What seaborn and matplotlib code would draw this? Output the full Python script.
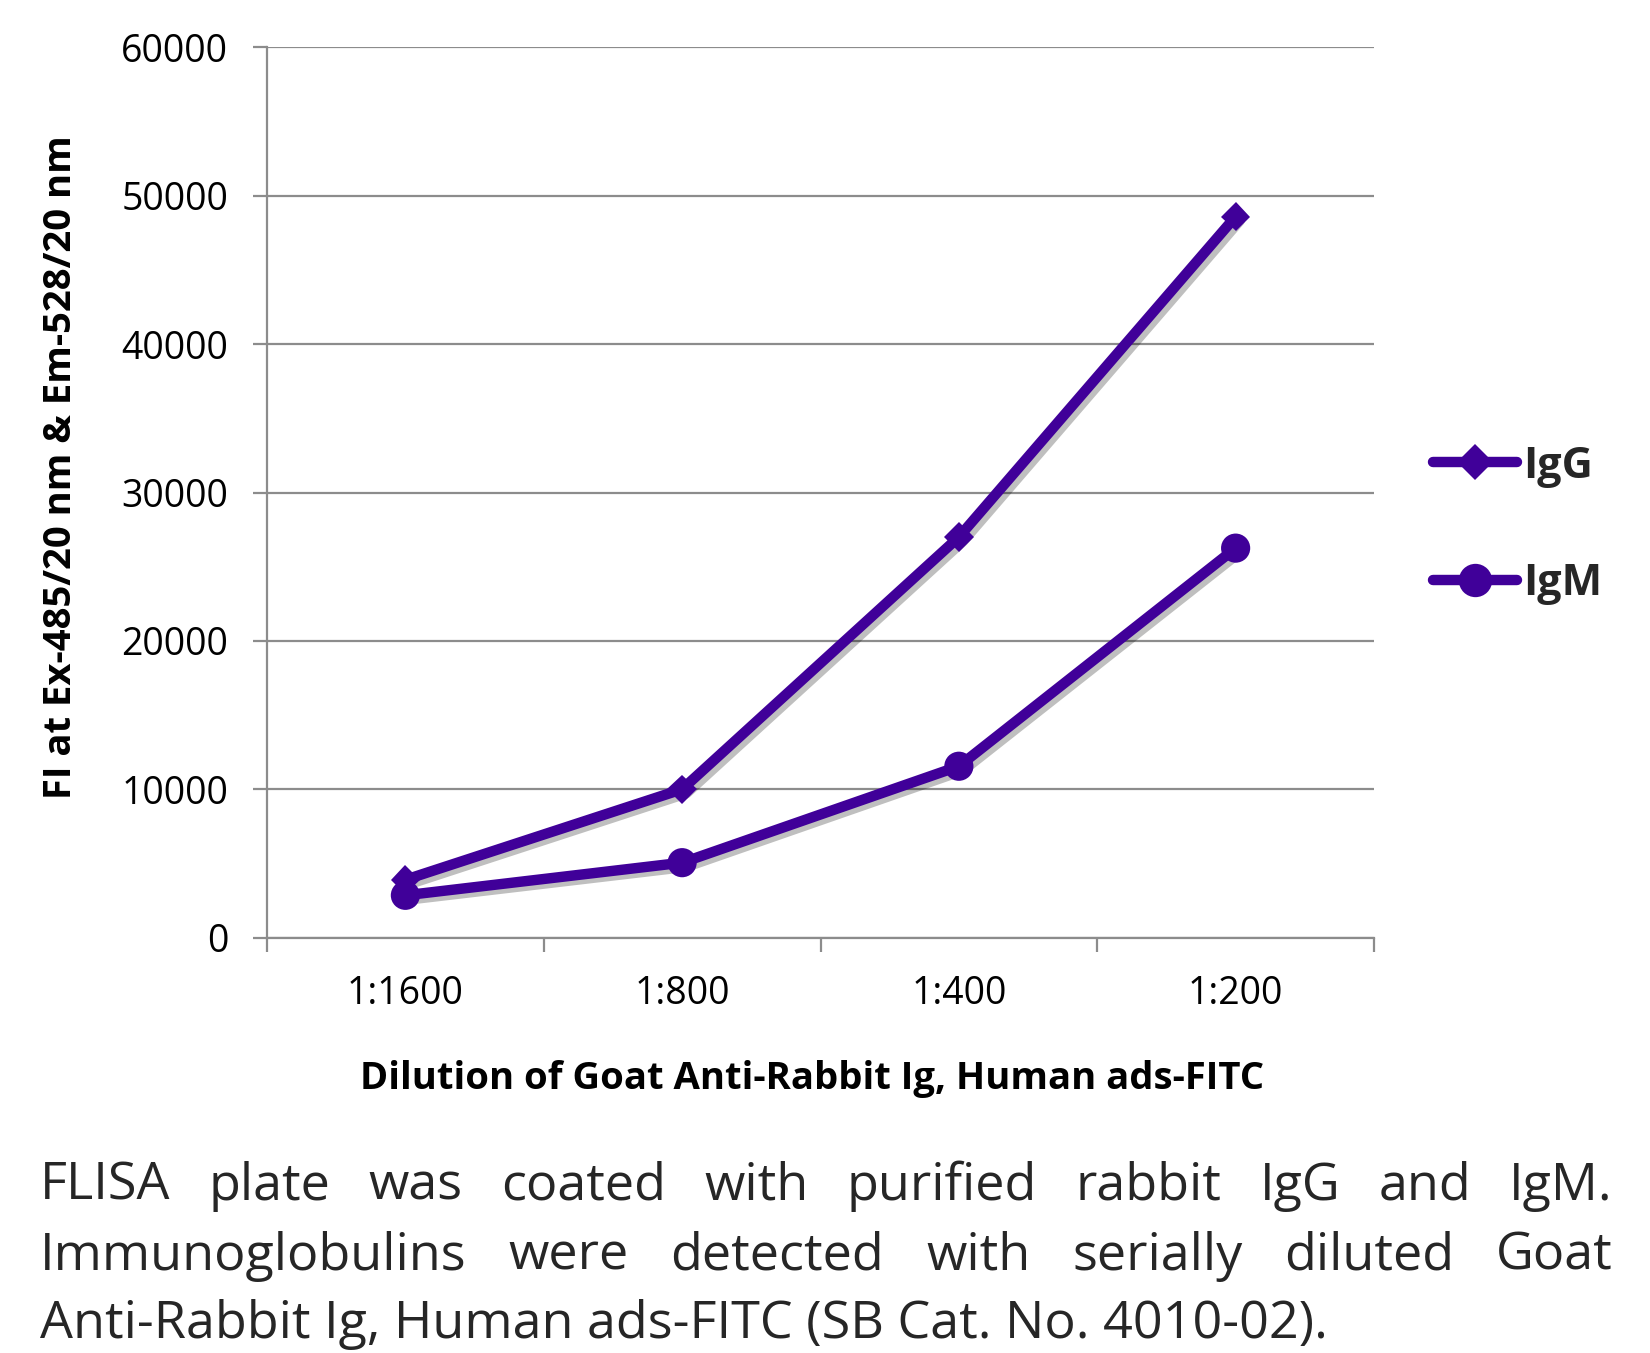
import numpy as np
import pandas as pd
import matplotlib
matplotlib.use("Agg")
import matplotlib.pyplot as plt
import matplotlib.patheffects as pe
from matplotlib.lines import Line2D
import seaborn as sns

# ---- data ----
dilutions = ["1:1600", "1:800", "1:400", "1:200"]
igg_values = [3900, 10000, 27000, 48600]
igm_values = [2850, 5050, 11550, 26250]
series_names = ["IgG", "IgM"]
y_ticks = [0, 10000, 20000, 30000, 40000, 50000, 60000]
x_label = "Dilution of Goat Anti-Rabbit Ig, Human ads-FITC"
y_label = "FI at Ex-485/20 nm & Em-528/20 nm"
caption_lines = [
    "FLISA plate was coated with purified rabbit IgG and IgM.",
    "Immunoglobulins were detected with serially diluted Goat",
    "Anti-Rabbit Ig, Human ads-FITC (SB Cat. No. 4010-02).",
]

sns.set_theme(style="white")
plt.rcParams["font.family"] = ["Open Sans", "DejaVu Sans"]

df = pd.DataFrame({
    "Dilution": dilutions * 2,
    "FI": igg_values + igm_values,
    "Series": ["IgG"] * len(dilutions) + ["IgM"] * len(dilutions),
})

W, H = 1650, 1353
fig = plt.figure(figsize=(W / 100, H / 100), dpi=100)
fig.patch.set_facecolor("white")
ax_left, ax_right, ax_top, ax_bot = 267, 1374, 47.4, 937.6
ax = fig.add_axes([ax_left / W, 1 - ax_bot / H, (ax_right - ax_left) / W, (ax_bot - ax_top) / H])

color = "#400099"
grid_color = "#8c8c8c"
marker_map = {"IgG": "D", "IgM": "o"}
marker_size = {"IgG": 15, "IgM": 21}

sns.lineplot(data=df, x="Dilution", y="FI", hue="Series", style="Series",
             markers=marker_map, dashes=False,
             palette={"IgG": color, "IgM": color},
             linewidth=7.5, markeredgewidth=0, sort=False,
             legend=False, ax=ax)

shadow = [pe.SimpleLineShadow(offset=(3, -3), shadow_color="black", alpha=0.25), pe.Normal()]
for line, name in zip(ax.lines, series_names):
    line.set_markersize(marker_size[name])
    line.set_path_effects(shadow)
    line.set_solid_joinstyle("round")

ax.set_xlim(-0.5, len(dilutions) - 0.5)
ax.set_ylim(0, 60000)
ax.set_yticks(y_ticks)
ax.set_yticklabels([str(v) for v in y_ticks])
ax.set_xticks(range(len(dilutions)))
ax.set_xticklabels(dilutions)
ax.set_xticks(np.arange(-0.5, len(dilutions), 1.0), minor=True)

ax.set_xlabel("")
ax.set_ylabel("")
ax.grid(axis="y", color=grid_color, linewidth=1.6)
ax.grid(axis="x", visible=False)
ax.set_axisbelow(True)
for s in ["top", "right"]:
    ax.spines[s].set_visible(False)
for s in ["left", "bottom"]:
    ax.spines[s].set_color(grid_color)
    ax.spines[s].set_linewidth(1.6)

ax.tick_params(axis="x", which="major", length=0, pad=27, labelsize=27, labelcolor="black")
ax.tick_params(axis="x", which="minor", length=10, width=1.6, color=grid_color, direction="out", bottom=True)
ax.tick_params(axis="y", which="major", length=10, width=1.6, color=grid_color, direction="out",
               left=True, pad=18, labelsize=27, labelcolor="black")

fig.text(61 / W, 1 - 467 / H, y_label, rotation=90, ha="center", va="center",
         fontsize=27.5, fontweight="bold", color="black")
fig.text(812 / W, 1 - 1079 / H, x_label, ha="center", va="center",
         fontsize=27.5, fontweight="bold", color="black")

# legend
handles = [Line2D([], [], color=color, linewidth=7.5, marker=marker_map[n],
                  markersize=marker_size[n] + 3, markeredgewidth=0,
                  solid_capstyle="round") for n in series_names]
leg = fig.legend(handles, series_names, loc="center left",
                 bbox_to_anchor=(1433 / W, 1 - 525 / H), frameon=False,
                 prop={"size": 31, "weight": "bold"}, handlelength=1.95,
                 handletextpad=0.15, labelspacing=1.74, borderpad=0, borderaxespad=0)

# justified caption
cap_size = 37.5
left_px, right_px = 40, 1613
baselines = [1200, 1270, 1338]
renderer = fig.canvas.get_renderer()
for i, (line_txt, base) in enumerate(zip(caption_lines, baselines)):
    yf = 1 - base / H
    if i == len(caption_lines) - 1:
        fig.text(left_px / W, yf, line_txt, fontsize=cap_size, ha="left", va="baseline")
        continue
    words = line_txt.split(" ")
    texts = [fig.text(0, yf, w, fontsize=cap_size, ha="left", va="baseline") for w in words]
    widths = [t.get_window_extent(renderer).width for t in texts]
    gap = (right_px - left_px - sum(widths)) / (len(words) - 1)
    x = left_px
    for t, w in zip(texts, widths):
        t.set_x(x / W)
        x += w + gap

fig.savefig("out.png", dpi=100, facecolor="white")
